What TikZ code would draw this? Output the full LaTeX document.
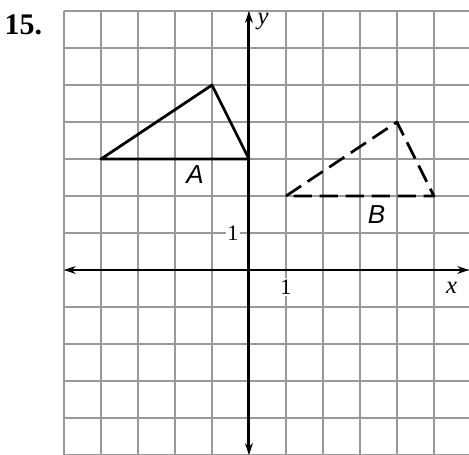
\documentclass[tikz,border=0pt]{standalone}
\usepackage{fontspec}
\setmainfont{Liberation Serif}
\newfontfamily\sanslab{Liberation Sans}
\usetikzlibrary{arrows.meta}

\begin{document}
\begin{tikzpicture}[
  >=Stealth,
  gridln/.style={draw=black!40, line width=1.9pt},
  axis/.style={{Stealth[length=9pt,width=6pt]}-{Stealth[length=9pt,width=6pt]}, line width=2.2pt},
  tri/.style={line width=2.1pt, line join=round},
  dashtri/.style={tri, dash pattern=on 14pt off 6pt},
  numlab/.style={fill=white, inner sep=1pt, font=\fontsize{17}{17}\selectfont},
  axlab/.style={fill=white, inner sep=1pt, font=\itshape\fontsize{19}{19}\selectfont},
  triname/.style={font=\sanslab\itshape\fontsize{20}{20}\selectfont}
]
\useasboundingbox (-6.73,-5.0) rectangle (5.95,7.30);

%% Problem number
\node[font=\bfseries\fontsize{23}{23}\selectfont] (num) at (-6.1,6.62) {15.};

%% Grid
\begin{scope}
  \clip (-5.05,-5.1) rectangle (5.95,7.05);
  \draw[gridln] (-5,-5) grid (6,7);
\end{scope}

%% Axis labels
\node[numlab] (one x) at (1.0,-0.46) {1};
\node[numlab] (one y) at (-0.43,1.0) {1};
\node[axlab] (lab x) at (5.48,-0.49) {x};
\node[axlab] (lab y) at (0.38,6.72) {y};

%% Axes
\coordinate (xl) at (-5,0);
\coordinate (xr) at (5.95,0);
\coordinate (yb) at (0,-5);
\coordinate (yt) at (0,7);
\draw[axis] (xl) -- (xr);
\draw[axis] (yb) -- (yt);

%% Triangle A
\coordinate (a1) at (-4,3);
\coordinate (a2) at (-1,5);
\coordinate (a3) at (0,3);
\draw[tri] (a1) -- (a2) -- (a3) -- cycle;
\node[triname] (name A) at (-1.46,2.58) {A};

%% Triangle B
\coordinate (b1) at (1,2);
\coordinate (b2) at (4,4);
\coordinate (b3) at (5,2);
\draw[dashtri] (b1) -- (b2) -- (b3) -- cycle;
\node[triname] (name B) at (3.45,1.5) {B};
\end{tikzpicture}
\end{document}
